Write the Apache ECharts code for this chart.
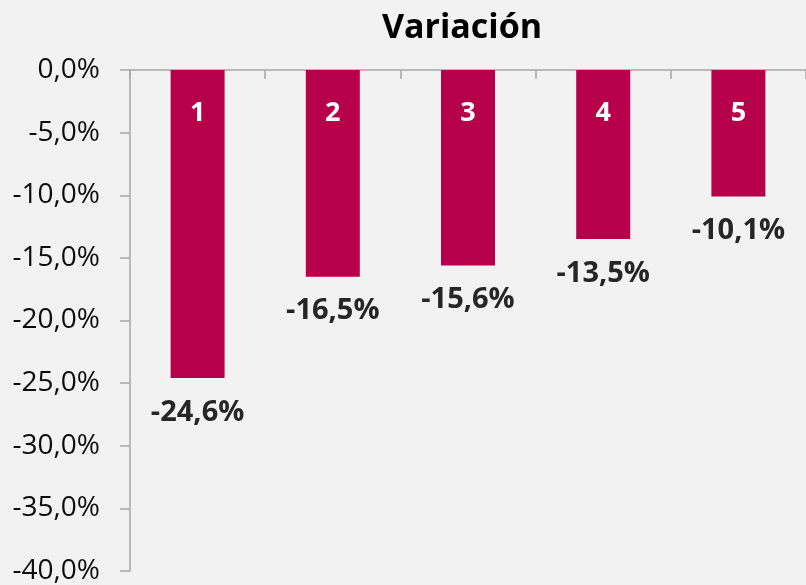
<!DOCTYPE html>
<html>
<head>
<meta charset="utf-8">
<script src="https://cdn.jsdelivr.net/npm/echarts@6/dist/echarts.min.js"></script>
<style>
  html, body { margin: 0; padding: 0; background: #f2f2f2; }
  #chart { width: 806px; height: 585px; }
</style>
</head>
<body>
<div id="chart"></div>
<script>
// Categories and their variation (in percent)
const categories = ['1', '2', '3', '4', '5'];
const variation = [-24.6, -16.5, -15.6, -13.5, -10.1];

const fmtPct = v => (Math.abs(v) < 1e-9 ? 0 : v).toFixed(1).replace('.', ',') + '%';

const chart = echarts.init(document.getElementById('chart'), null, { renderer: 'canvas' });
chart.setOption({
  backgroundColor: '#f2f2f2',
  animation: false,
  title: {
    text: 'Variación',
    left: 457,
    textAlign: 'center',
    top: 6,
    textStyle: { fontFamily: 'Open Sans', fontWeight: 'bold', fontSize: 34, color: '#000' }
  },
  grid: { left: 130, right: -2, top: 70, bottom: 14, containLabel: false },
  xAxis: {
    type: 'category',
    data: categories,
    position: 'top',
    axisLine: { lineStyle: { color: '#a6a6a6', width: 1.5 } },
    axisTick: { show: true, inside: true, length: 9, lineStyle: { color: '#a6a6a6', width: 1.5 } },
    axisLabel: { show: false },
    splitLine: { show: false }
  },
  yAxis: {
    type: 'value',
    min: -40,
    max: 0,
    interval: 5,
    axisLine: { show: true, lineStyle: { color: '#a6a6a6', width: 1.5 } },
    axisTick: { show: true, length: 10, lineStyle: { color: '#a6a6a6', width: 1.5 } },
    splitLine: { show: false },
    axisLabel: {
      formatter: fmtPct,
      margin: 30,
      fontFamily: 'Open Sans',
      fontSize: 28,
      color: '#0d0d0d'
    }
  },
  series: [
    {
      type: 'bar',
      data: variation,
      barWidth: 54,
      itemStyle: { color: '#b7004a' },
      label: {
        show: true,
        position: 'bottom',
        distance: 20,
        formatter: p => fmtPct(p.value),
        fontFamily: 'Open Sans',
        fontWeight: 'bold',
        fontSize: 29,
        color: '#262626'
      }
    },
    {
      type: 'bar',
      data: variation,
      barWidth: 54,
      barGap: '-100%',
      itemStyle: { color: 'rgba(0,0,0,0)' },
      silent: true,
      label: {
        show: true,
        position: 'insideTop',
        distance: 30,
        formatter: '{b}',
        fontFamily: 'Open Sans',
        fontWeight: 'bold',
        fontSize: 27,
        color: '#ffffff'
      }
    }
  ]
});
</script>
</body>
</html>
